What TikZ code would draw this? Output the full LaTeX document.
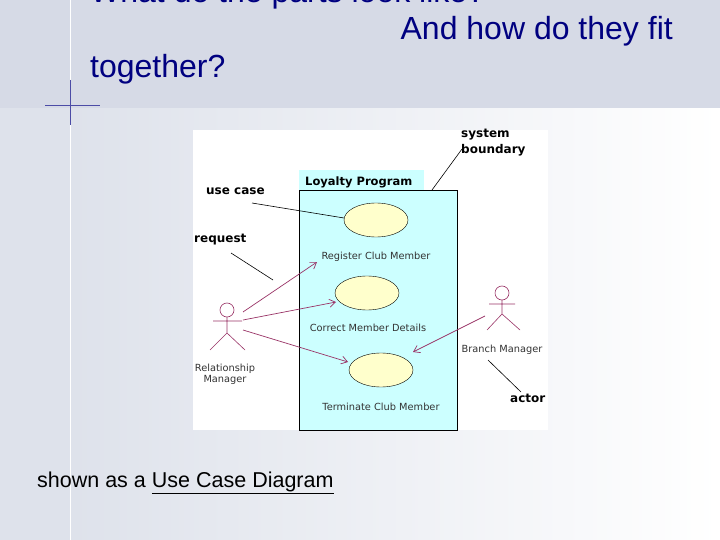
\documentclass[tikz,border=0pt]{standalone}
\usepackage{fontspec}
\setmainfont{Liberation Sans}
\newfontfamily\djvfont{DejaVu Sans}
\usetikzlibrary{arrows.meta,shapes.geometric}
\definecolor{navy}{HTML}{000080}
\definecolor{band}{HTML}{D6DAE6}
\definecolor{lstrip}{HTML}{DEE2EB}
\definecolor{sysc}{HTML}{CCFFFF}
\definecolor{ucfill}{HTML}{FFFFCC}
\definecolor{assoc}{HTML}{993366}
\begin{document}
\begin{tikzpicture}[x=1pt,y=-1pt,
  title/.style={font=\fontsize{32}{36}\selectfont, text=navy, inner sep=0},
  uc/.style={ellipse, draw=black, fill=ucfill, minimum width=64, minimum height=34, inner sep=0},
  uclabel/.style={font=\djvfont\fontsize{9.8}{11}\selectfont, text=black!80, inner sep=0},
  note/.style={font=\djvfont\bfseries\fontsize{12}{14}\selectfont, inner sep=0, align=left},
  ann/.style={draw=black, line width=0.6},
  assocl/.style={draw=assoc, line width=0.7, -{Straight Barb[length=6pt,width=8pt]}},
  actor/.style={draw=assoc, line width=0.6}]
\useasboundingbox (0,0) rectangle (720,540);
\begin{scope}
\clip (0,0) rectangle (720,540);
\fill[white] (0,0) rectangle (720,540);
\shade[left color=lstrip, right color=white] (70,108) rectangle (720,540);
\fill[lstrip] (0,108) rectangle (70,540);
\fill[band] (0,0) rectangle (720,108);
\draw[white, line width=1] (70,0) -- (70,540);
\draw[navy!70, line width=0.8] (70,80) -- (70,125);
\draw[navy!70, line width=0.8] (45,105) -- (100,105);
\node[title, anchor=base west] (t0) at (90,3) {What do the parts look like?};
\end{scope}
\node[title, anchor=base east] (t1) at (673,40) {And how do they fit};
\node[title, anchor=base west] (t2) at (90,78) {together?};
% diagram
\fill[white] (193,130) rectangle (548,430);
\fill[sysc] (299,170) rectangle (424,190);
\node[font=\djvfont\bfseries\fontsize{11.5}{13}\selectfont, anchor=west, inner sep=0] (lp) at (305,182) {Loyalty Program};
\draw[fill=sysc, line width=0.6] (299,190) rectangle (457,430);
\node[uc] (u1) at (376,220) {};
\node[uc] (u2) at (367,293) {};
\node[uc] (u3) at (381,370) {};
\node[uclabel] (l1) at (376,257) {Register Club Member};
\node[uclabel] (l2) at (368,328) {Correct Member Details};
\node[uclabel] (l3) at (381,407) {Terminate Club Member};
% actors
\draw[actor] (227,310) circle (7);
\draw[actor] (227,317) -- (227,333) (213,321) -- (242,321) (210,350) -- (227,333) -- (245,350);
\draw[actor] (502,293) circle (7);
\draw[actor] (502,300) -- (502,314) (489,304) -- (515,304) (487,330) -- (502,314) -- (520,330);
\node[uclabel, align=center] (rm) at (225,374) {Relationship\\Manager};
\node[uclabel] (bm) at (502,350) {Branch Manager};
\coordinate (a1) at (243,312); \coordinate (a2) at (243,320); \coordinate (a3) at (243,330);
\coordinate (b1) at (485,316);
\coordinate (h1) at (317,262); \coordinate (h2) at (336,302); \coordinate (h3) at (348,362); \coordinate (h4) at (413,352);
\draw[assocl] (a1) -- (h1);
\draw[assocl] (a2) -- (h2);
\draw[assocl] (a3) -- (h3);
\draw[assocl] (b1) -- (h4);
% annotations
\node[note, anchor=west] (nuc) at (206,191) {use case};
\node[note, anchor=west] (nrq) at (194,240) {request};
\node[note, anchor=north west] (nsb) at (461,129) {system\\[2pt]boundary};
\node[note, anchor=west] (nac) at (510,398) {actor};
\coordinate (c1) at (252,203); \coordinate (c2) at (231,253); \coordinate (c3) at (462,149); \coordinate (c4) at (488,360);
\coordinate (d1) at (344,218); \coordinate (d2) at (273,280); \coordinate (d3) at (432,190); \coordinate (d4) at (521,392);
\draw[ann] (c1) -- (d1);
\draw[ann] (c2) -- (d2);
\draw[ann] (c3) -- (d3);
\draw[ann] (c4) -- (d4);
\node[font=\fontsize{21.5}{24}\selectfont, anchor=base west, inner sep=0] (cap) at (37,487) {shown as a \underline{Use Case Diagram}};
\end{tikzpicture}
\end{document}
